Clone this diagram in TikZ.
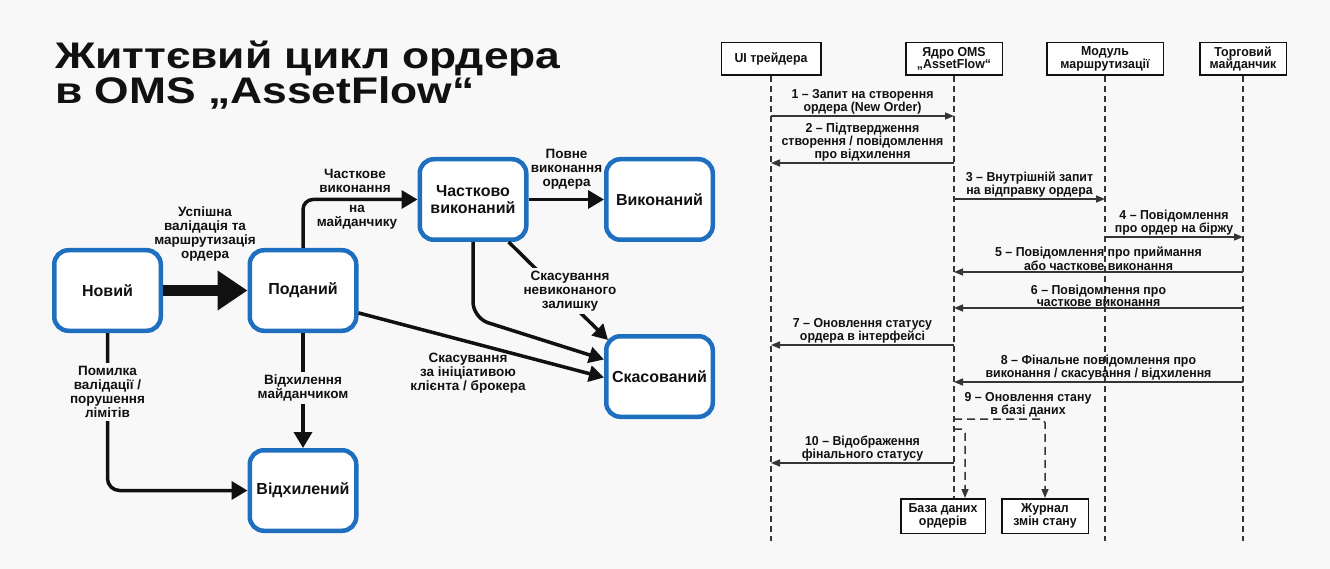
\documentclass[tikz,border=0pt]{standalone}
\usepackage{fontspec}
\setmainfont{Liberation Sans}
\newfontfamily\seqfont[FakeStretch=0.95]{Liberation Sans}
\newfontfamily\titlefont[FakeStretch=1.2]{Liberation Sans}
\usetikzlibrary{arrows.meta,calc}

\definecolor{bg}{HTML}{F8F8F8}
\definecolor{stateblue}{HTML}{1F6FC1}
\definecolor{ink}{HTML}{111111}

\begin{document}
\begin{tikzpicture}[x=1pt,y=-1pt,
  stbox/.style={draw=stateblue, line width=4.5pt, rounded corners=14pt, fill=white,
    minimum width=106.5pt, minimum height=80.5pt, align=center, inner sep=2pt,
    text=ink, font=\bfseries\fontsize{16}{17}\selectfont},
  lbl/.style={font=\bfseries\fontsize{13.5}{14}\selectfont, align=center, inner sep=1.5pt, text=ink},
  arr/.style={draw=ink, line width=3.5pt, -{Triangle[length=16pt,width=18pt]}},
  arrsm/.style={draw=ink, line width=3.5pt, -{Triangle[length=15pt,width=16pt]}},
  actor/.style={draw=ink, line width=1.5pt, fill=white, align=center, inner sep=1pt,
    minimum height=32.5pt, text=ink, font=\seqfont\bfseries\fontsize{13}{12.5}\selectfont},
  life/.style={draw=ink!85, line width=1.6pt, dash pattern=on 6pt off 4pt},
  msg/.style={draw=ink!85, line width=1.5pt, -{Triangle[length=9pt,width=7pt]}},
  dmsg/.style={draw=ink!85, line width=1.5pt, dash pattern=on 8pt off 5pt, -{Triangle[length=9pt,width=7pt]}},
  mlbl/.style={align=center, inner sep=1pt, text=ink, font=\seqfont\bfseries\fontsize{13}{12}\selectfont}
]
\fill[bg] (0,0) rectangle (1330,569);
\useasboundingbox (0,0) rectangle (1330,569);

% ---------- title ----------
\node[anchor=base west, inner sep=0pt, text=ink, font=\titlefont\bfseries\fontsize{37}{37}\selectfont] (title1) at (55,69) {Життєвий цикл ордера};
\node[anchor=base west, inner sep=0pt, text=ink, font=\titlefont\bfseries\fontsize{37}{37}\selectfont] (title2) at (55,104) {в OMS „AssetFlow“};

% ---------- order states ----------
\node[stbox] (new)  at (107.5,290.5) {Новий};
\node[stbox] (sub)  at (303,290.5)   {Поданий};
\node[stbox] (part) at (473,199.5)   {Частково\\виконаний};
\node[stbox] (done) at (659.5,199.5) {Виконаний};
\node[stbox] (canc) at (659.5,376.5) {Скасований};
\node[stbox] (rej)  at (303,490.5)   {Відхилений};

% ---------- transitions ----------
\draw[draw=ink, line width=10pt, -{Triangle[length=30pt,width=38pt]}] (new.east) -- (sub.west);
\node[lbl] (lvalid) at (205,234) {Успішна\\валідація та\\маршрутизація\\ордера};

\draw[arr, rounded corners=10pt] (sub.north) |- (part.west);
\node[lbl] (lpart1) at (355,181) {Часткове\\виконання};
\node[lbl] (lpart2) at (357,217) {на\\майданчику};

\draw[arr] (part.east) -- (done.west);
\node[lbl] (lfull) at (566.5,169) {Повне\\виконання\\ордера};

\draw[arrsm] (part.-50) -- ($(canc.north west)+(4,6)$);
\node[lbl, fill=bg, inner sep=3pt] (lrest) at (570,291) {Скасування\\невиконаного\\залишку};

\draw[arrsm, rounded corners=16pt] (part.south) -- ($(part.south)+(0,76)$) -- ($(canc.west)+(0,-17)$);

\draw[arrsm] (sub.-22) -- ($(canc.west)+(0,1)$);
\node[lbl] (lclient) at (468,373) {Скасування\\за ініціативою\\клієнта / брокера};

\draw[arr] (sub.south) -- (rej.north);
\node[lbl, fill=bg, inner sep=3pt] (lvenue) at (303,388) {Відхилення\\майданчиком};

\draw[arr, rounded corners=12pt] (new.south) |- (rej.west);
\node[lbl, fill=bg, inner sep=3pt] (llimit) at (107.5,392) {Помилка\\валідації /\\порушення\\лімітів};

% ---------- sequence of messages ----------
\node[actor, minimum width=99.5pt] (ui)   at (771,59)  {UI трейдера};
\node[actor, minimum width=96.5pt] (core) at (954,59)  {Ядро OMS\\„AssetFlow“};
\node[actor, minimum width=116.5pt] (rt)  at (1105,59) {Модуль\\маршрутизації};
\node[actor, minimum width=86.5pt] (ex)   at (1243,59) {Торговий\\майданчик};

\node[actor, minimum width=84.5pt, minimum height=34.5pt] (db)      at (943,516)  {База даних\\ордерів};
\node[actor, minimum width=86.5pt, minimum height=34.5pt] (journal) at (1045,516) {Журнал\\змін стану};

\draw[life] (ui.south)   -- (ui.south |- 0,541);
\draw[life] (core.south) -- (db.north -| core.south);
\draw[life] (rt.south)   -- (rt.south |- 0,541);
\draw[life] (ex.south)   -- (ex.south |- 0,541);

\draw[msg] (ui.south |- 0,116) -- node[mlbl, above] {1 – Запит на створення\\ордера (New Order)} (core.south |- 0,116);
\draw[msg] (core.south |- 0,163) -- node[mlbl, above] {2 – Підтвердження\\створення / повідомлення\\про відхилення} (ui.south |- 0,163);
\draw[msg] (core.south |- 0,199) -- node[mlbl, above] {3 – Внутрішній запит\\на відправку ордера} (rt.south |- 0,199);
\draw[msg] (rt.south |- 0,237) -- node[mlbl, above] {4 – Повідомлення\\про ордер на біржу} (ex.south |- 0,237);
\draw[msg] (ex.south |- 0,272) -- node[mlbl, above] {5 – Повідомлення про приймання\\або часткове виконання} (core.south |- 0,272);
\draw[msg] (ex.south |- 0,308) -- node[mlbl, above] {6 – Повідомлення про\\часткове виконання} (core.south |- 0,308);
\draw[msg] (core.south |- 0,345) -- node[mlbl, above] {7 – Оновлення статусу\\ордера в інтерфейсі} (ui.south |- 0,345);
\draw[msg] (ex.south |- 0,382) -- node[mlbl, above] {8 – Фінальне повідомлення про\\виконання / скасування / відхилення} (core.south |- 0,382);

\draw[dmsg, rounded corners=4pt] (core.south |- 0,419) -| (journal.north);
\node[mlbl] (l9) at (1028,405) {9 – Оновлення стану\\в базі даних};
\draw[dmsg, rounded corners=4pt] (core.south |- 0,429) -| ($(db.north)+(22,0)$);

\draw[msg] (core.south |- 0,463) -- node[mlbl, above] {10 – Відображення\\фінального статусу} (ui.south |- 0,463);
\end{tikzpicture}
\end{document}
